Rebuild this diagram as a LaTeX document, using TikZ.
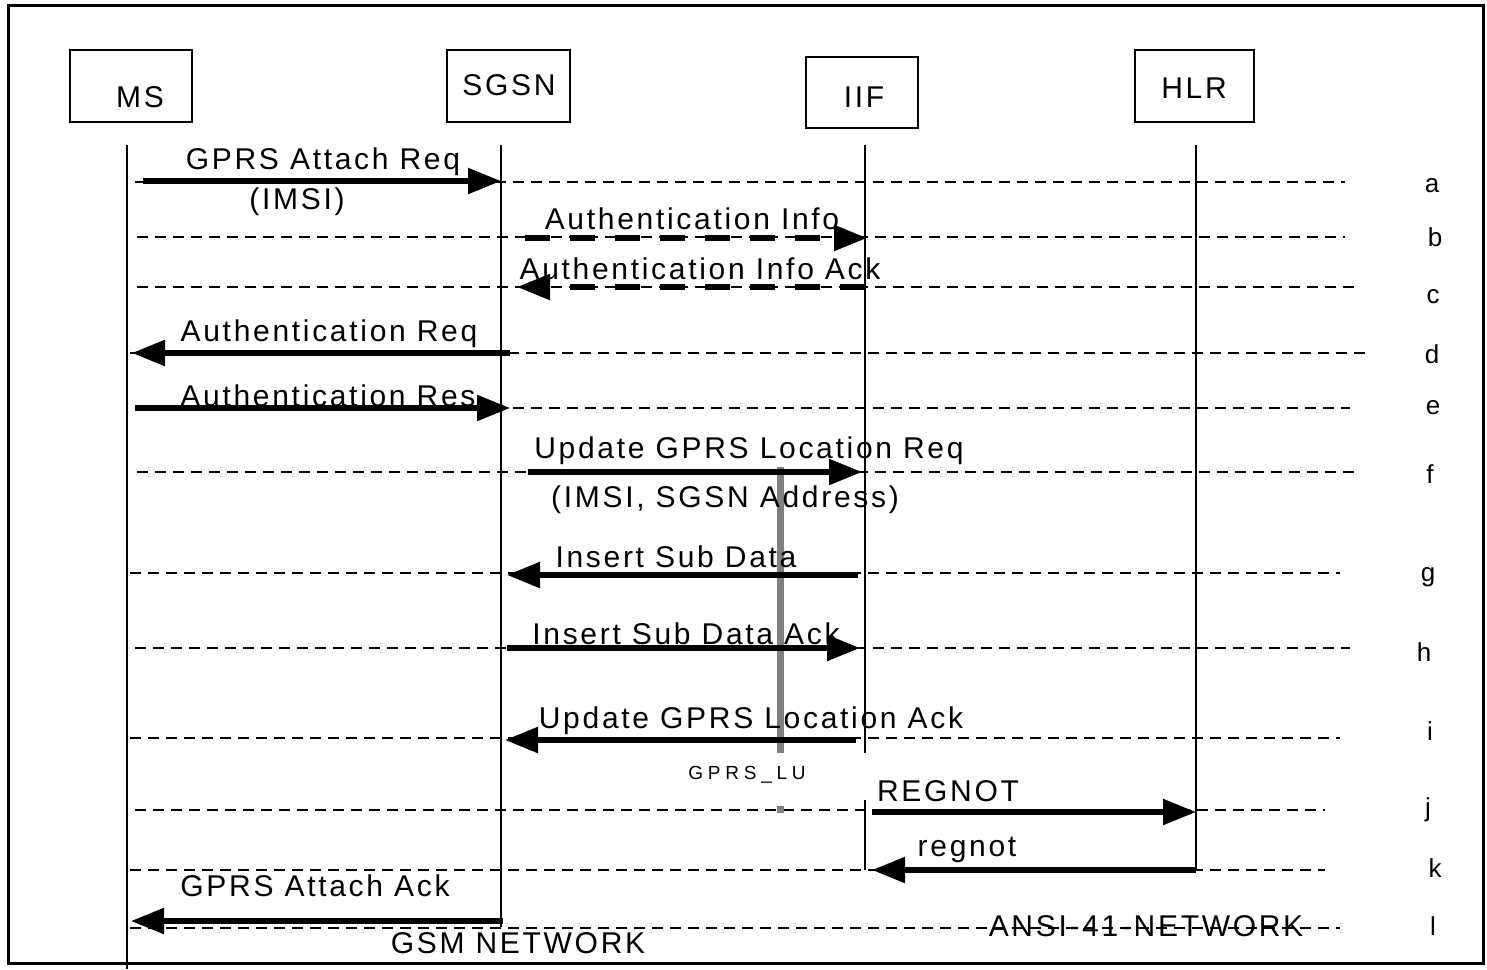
\documentclass[tikz,border=0pt]{standalone}
\usepackage{fontspec}
\newfontfamily\msgfont{Liberation Sans}[LetterSpace=9]
\newfontfamily\smallfont{Liberation Sans}[LetterSpace=25]
\newfontfamily\plainfont{Liberation Sans}
\usetikzlibrary{arrows.meta}
\tikzset{
  box/.style={draw, line width=1.5pt, minimum width=122pt, minimum height=72pt, inner sep=0pt},
  life/.style={line width=2pt},
  grid/.style={line width=1.3pt, dash pattern=on 11pt off 7pt},
  msg/.style={line width=5.5pt, -{Triangle[length=33pt,width=25pt]}},
  dmsg/.style={msg, dash pattern=on 25pt off 20pt},
  lbl/.style={font=\msgfont\fontsize{30}{34}\selectfont, inner sep=0pt},
  tag/.style={font=\plainfont\fontsize{26}{30}\selectfont, inner sep=0pt},
  lu/.style={font=\smallfont\fontsize{19}{22}\selectfont, inner sep=0pt}
}
\begin{document}
\begin{tikzpicture}[x=1pt,y=-1pt]
\useasboundingbox (0,0) rectangle (1487,969);
\draw[line width=3pt] (8,5) rectangle (1483,963);
% entity boxes
\node[box] (msbox) at (131,86) {};
\node[box, minimum width=123pt] (sgsnbox) at (508.5,86) {};
\node[box, minimum width=112pt, minimum height=71pt] (iifbox) at (862,92.5) {};
\node[box, minimum width=119pt] (hlrbox) at (1194.5,86) {};
\node[lbl] (mst) at (140,97) {MS};
\node[lbl] (sgsnt) at (509,85) {SGSN};
\node[lbl] (iift) at (864,97) {IIF};
\node[lbl] (hlrt) at (1194,88) {HLR};
% lifelines
\coordinate (ms0) at (127,145); \coordinate (ms1) at (127,969);
\coordinate (sg0) at (501,145); \coordinate (sg1) at (501,927);
\coordinate (iif0) at (865,145); \coordinate (iif1) at (865,753);
\coordinate (iif2) at (865,800); \coordinate (iif3) at (865,870);
\coordinate (hl0) at (1196,145); \coordinate (hl1) at (1196,870);
\draw[life] (ms0) -- (ms1);
\draw[life] (sg0) -- (sg1);
\draw[life] (iif0) -- (iif1);
\draw[line width=1.5pt] (iif2) -- (iif3);
\draw[life] (hl0) -- (hl1);
% grid lines
\foreach \y/\xa/\xb in {182/135/1345, 237/137/1345, 287/137/1360, 353/130/1365, 408/135/1350, 472/137/1355, 573/130/1340, 648/135/1350, 738/130/1340, 810/135/1325, 870/130/1325, 928/130/1340}
  \draw[grid] (\xa,\y) -- (\xb,\y);
% row tags
\node[tag] (ta) at (1432,186) {a};
\node[tag] (tb) at (1435,237) {b};
\node[tag] (tc) at (1433,297) {c};
\node[tag] (td) at (1432,354) {d};
\node[tag] (te) at (1433,408) {e};
\node[tag] (tf) at (1430,474) {f};
\node[tag] (tg) at (1428,577) {g};
\node[tag] (th) at (1424,652) {h};
\node[tag] (ti) at (1430,731) {i};
\node[tag] (tj) at (1428,810) {j};
\node[tag] (tk) at (1435,868) {k};
\node[tag] (tl) at (1433,926) {l};
% gray bar
\coordinate (gb0) at (780,467); \coordinate (gb1) at (780,753);
\draw[line width=7pt, color=gray] (gb0) -- (gb1);
\fill[gray] (776.5,806) rectangle (783.5,813);
% message endpoints
\coordinate (a0) at (143,181); \coordinate (a1) at (501,181);
\coordinate (b0) at (525,238); \coordinate (b1) at (867,238);
\coordinate (c0) at (865,287); \coordinate (c1) at (517,287);
\coordinate (d0) at (510,353); \coordinate (d1) at (132,353);
\coordinate (e0) at (135,408); \coordinate (e1) at (510,408);
\coordinate (f0) at (528,472); \coordinate (f1) at (862,472);
\coordinate (g0) at (858,575); \coordinate (g1) at (507,575);
\coordinate (h0) at (507,648); \coordinate (h1) at (860,648);
\coordinate (i0) at (856,740); \coordinate (i1) at (505,740);
\coordinate (j0) at (872,812); \coordinate (j1) at (1196,812);
\coordinate (k0) at (1196,870); \coordinate (k1) at (872,870);
\coordinate (l0) at (503,921); \coordinate (l1) at (131,921);
\draw[msg] (a0) -- (a1);
\draw[dmsg] (b0) -- (b1);
\draw[dmsg] (c0) -- (c1);
\draw[msg] (d0) -- (d1);
\draw[msg] (e0) -- (e1);
\draw[msg] (f0) -- (f1);
\draw[msg] (g0) -- (g1);
\draw[msg] (h0) -- (h1);
\draw[msg] (i0) -- (i1);
\draw[msg] (j0) -- (j1);
\draw[msg] (k0) -- (k1);
\draw[msg] (l0) -- (l1);
% labels
\node[lbl] (la) at (323,162) {GPRS Attach Req};
\node[lbl] (la2) at (297,202) {(IMSI)};
\node[lbl] (lb) at (692,219) {Authentication Info};
\node[lbl] (lc) at (700,269) {Authentication Info Ack};
\node[lbl] (ld) at (329,334) {Authentication Req};
\node[lbl] (le) at (328,396) {Authentication Res};
\node[lbl] (lf) at (749,451) {Update GPRS Location Req};
\node[lbl] (lf2) at (725,500) {(IMSI, SGSN Address)};
\node[lbl] (lg) at (676,557) {Insert Sub Data};
\node[lbl] (lh) at (686,634) {Insert Sub Data Ack};
\node[lbl] (li) at (751,721) {Update GPRS Location Ack};
\node[lu] (llu) at (747,775) {GPRS\_LU};
\node[lbl] (lj) at (948,791) {REGNOT};
\node[lbl] (lk) at (967,850) {regnot};
\node[lbl] (ll) at (315,886) {GPRS Attach Ack};
\node[lbl] (gsm) at (518,943) {GSM NETWORK};
\node[lbl] (ansi) at (1146,926) {ANSI-41-NETWORK};
\end{tikzpicture}
\end{document}
